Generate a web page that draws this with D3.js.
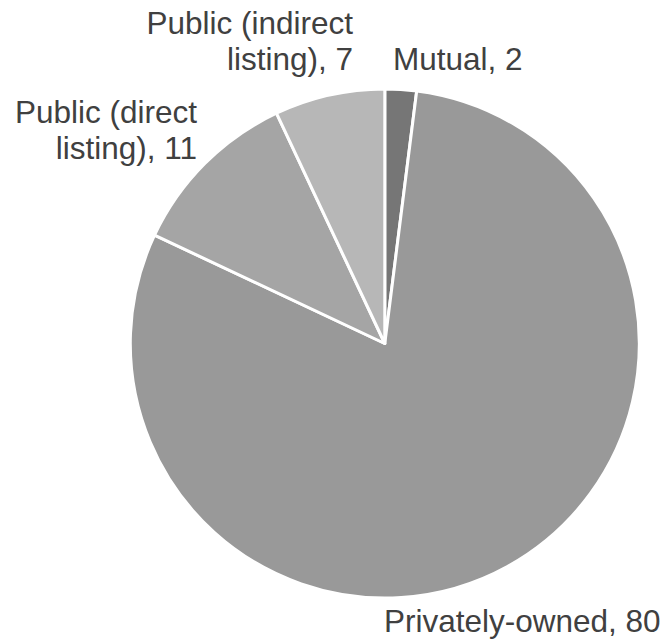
<!DOCTYPE html>
<html>
<head>
<meta charset="utf-8">
<script src="https://cdn.jsdelivr.net/npm/d3@7"></script>
<style>
  html, body { margin: 0; padding: 0; background: #ffffff; }
  svg { display: block; }
</style>
</head>
<body>
<svg id="chart" width="668" height="639"></svg>
<script>
const categories = ["Mutual", "Privately-owned", "Public (direct listing)", "Public (indirect listing)"];
const values = [2, 80, 11, 7];
const colors = ["#767676", "#999999", "#a5a5a5", "#b7b7b7"];
const labelLines = [
  ["Mutual, 2"],
  ["Privately-owned, 80"],
  ["Public (direct", "listing), 11"],
  ["Public (indirect", "listing), 7"]
];

const width = 668, height = 639;
const cx = 384.8, cy = 343.5, radius = 254.5;

const svg = d3.select("#chart");
const g = svg.append("g").attr("transform", `translate(${cx},${cy})`);

const data = categories.map((c, i) => ({ name: c, value: values[i], color: colors[i], lines: labelLines[i] }));
const pie = d3.pie().sort(null).value(d => d.value);
const arc = d3.arc().innerRadius(0).outerRadius(radius);
const arcs = pie(data);

g.selectAll("path.slice")
  .data(arcs)
  .join("path")
  .attr("class", "slice")
  .attr("d", arc)
  .attr("fill", d => d.data.color)
  .attr("stroke", "#ffffff")
  .attr("stroke-width", 3)
  .attr("stroke-linejoin", "round");

// label placement (anchor positions, per category)
const labelPos = {
  "Mutual": { x: 393, y: 70.3, anchor: "start" },
  "Privately-owned": { x: 384, y: 632, anchor: "start" },
  "Public (direct listing)": { x: 197, y: 122.5, anchor: "end" },
  "Public (indirect listing)": { x: 353, y: 34.3, anchor: "end" }
};
const lineH = 36;

const labels = svg.append("g")
  .attr("font-family", "Liberation Sans, Arial, sans-serif")
  .attr("font-size", 31.5)
  .attr("fill", "#404040");

arcs.forEach(a => {
  const p = labelPos[a.data.name];
  const t = labels.append("text")
    .attr("x", p.x)
    .attr("y", p.y)
    .attr("text-anchor", p.anchor);
  a.data.lines.forEach((ln, i) => {
    t.append("tspan")
      .attr("x", p.x)
      .attr("y", p.y + i * lineH)
      .text(ln);
  });
});
</script>
</body>
</html>
